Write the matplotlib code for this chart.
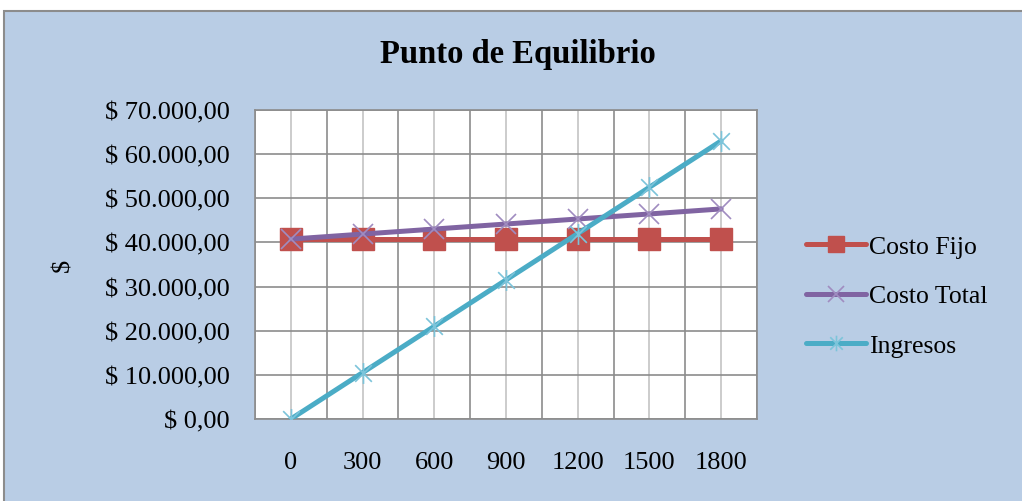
import matplotlib
matplotlib.use("Agg")
import matplotlib.pyplot as plt
from matplotlib.patches import Rectangle
from matplotlib.path import Path
from matplotlib.ticker import FixedLocator, FuncFormatter

# Break-even data
unidades = [0, 300, 600, 900, 1200, 1500, 1800]
costo_fijo = [40750, 40750, 40750, 40750, 40750, 40750, 40750]
costo_total = [40750, 41890, 43030, 44170, 45310, 46450, 47590]
ingresos = [0, 10500, 21000, 31500, 42000, 52500, 63000]
y_ticks = [0, 10000, 20000, 30000, 40000, 50000, 60000, 70000]

BG = "#B9CDE5"
RED = "#C0504D"
PURPLE = "#8064A2"
TEAL = "#4BACC6"
FONT = "Liberation Serif"

plt.rcParams["font.family"] = [FONT, "DejaVu Serif"]

fig = plt.figure(figsize=(10.22, 5.02), dpi=100)
fig.patch.set_facecolor("white")

# chart area panel with its grey frame
W, H = 1022, 502
panel = Rectangle((4 / W, -0.01), 1.05, (H - 12) / H + 0.01,
                  transform=fig.transFigure, facecolor=BG,
                  edgecolor="#8C8C8C", linewidth=1.5, zorder=-10)
fig.patches.append(panel)

ax = fig.add_axes([255 / W, (H - 420) / H, (757 - 255) / W, (420 - 111) / H])
ax.set_zorder(1)
ax.set_facecolor("white")

x = list(range(len(unidades)))

# star marker: an X plus a vertical bar
star = Path([(-1, -1), (1, 1), (-1, 1), (1, -1), (0, -1.25), (0, 1.25)],
            [Path.MOVETO, Path.LINETO, Path.MOVETO, Path.LINETO,
             Path.MOVETO, Path.LINETO])

ax.plot(x, costo_fijo, color=RED, lw=3.6, marker="s", markersize=15.5,
        markerfacecolor=RED, markeredgecolor=RED, label="Costo Fijo",
        solid_capstyle="round", zorder=3)
ax.plot(x, costo_total, color=PURPLE, lw=3.6, marker="x", markersize=15,
        markeredgecolor="#A08CC0", markeredgewidth=1.2, label="Costo Total",
        solid_capstyle="round", zorder=4)
ax.plot(x, ingresos, color=TEAL, lw=3.6, marker=star, markersize=15,
        markeredgecolor="#7CC4DA", markeredgewidth=1.2, label="Ingresos",
        solid_capstyle="round", zorder=5)

ax.set_xlim(-0.5, len(unidades) - 0.5)
ax.set_ylim(y_ticks[0], y_ticks[-1])

# category labels at centres, major grid at category boundaries
ax.xaxis.set_major_locator(FixedLocator([i - 0.5 for i in range(len(unidades) + 1)]))
ax.xaxis.set_minor_locator(FixedLocator(x))
ax.xaxis.set_major_formatter(FuncFormatter(lambda v, p: ""))
ax.xaxis.set_minor_formatter(FuncFormatter(lambda v, p: str(unidades[int(round(v))])))
ax.set_yticks(y_ticks)


def pesos(v, p):
    s = f"{v:,.2f}".replace(",", "X").replace(".", ",").replace("X", ".")
    return f"$ {s}"


ax.yaxis.set_major_formatter(FuncFormatter(pesos))
ax.grid(which="major", axis="both", color="#8C8C8C", lw=1.2, zorder=1)
ax.grid(which="minor", axis="x", color="#C4C4C4", lw=1.2, zorder=1)
ax.set_axisbelow(True)

ax.tick_params(axis="both", which="both", length=0)
ax.tick_params(axis="y", pad=18, labelsize=19)
ax.tick_params(axis="x", which="minor", pad=23, labelsize=19)
for sp in ax.spines.values():
    sp.set_color("#8C8C8C")
    sp.set_linewidth(1.2)

fig.text(518 / W, 1 - 55 / H, "Punto de Equilibrio", ha="center", va="center",
         fontsize=23.5, fontweight="bold", family=FONT)
fig.text(63 / W, 1 - 265 / H, "$", ha="center", va="center", rotation=90,
         fontsize=19, family=FONT)

leg = fig.legend(loc="center left", bbox_to_anchor=(793 / W, 1 - 297 / H),
                 frameon=False, fontsize=18.5, handlelength=2.35,
                 handletextpad=0.1, labelspacing=1.05, borderpad=0,
                 markerscale=0.75)

fig.savefig("out.png", dpi=100, facecolor=fig.get_facecolor())
